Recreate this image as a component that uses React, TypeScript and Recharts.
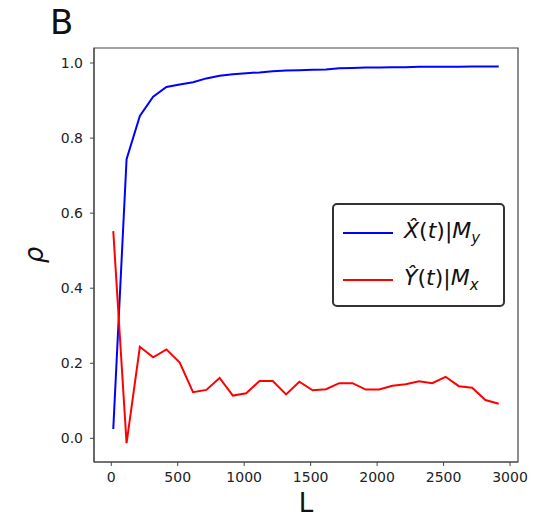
import { LineChart, Line, XAxis, YAxis, ReferenceArea } from "recharts";

const lengths = [15, 115, 215, 315, 415, 515, 615, 715, 815, 915, 1015, 1115, 1215, 1315, 1415, 1515, 1615, 1715, 1815, 1915, 2015, 2115, 2215, 2315, 2415, 2515, 2615, 2715, 2815, 2915];
const xGivenMy = [0.025, 0.744, 0.859, 0.91, 0.936, 0.943, 0.949, 0.959, 0.966, 0.97, 0.973, 0.975, 0.978, 0.98, 0.981, 0.982, 0.983, 0.986, 0.987, 0.988, 0.988, 0.989, 0.989, 0.99, 0.99, 0.99, 0.99, 0.991, 0.991, 0.991];
const yGivenMx = [0.552, -0.013, 0.244, 0.216, 0.237, 0.202, 0.123, 0.129, 0.161, 0.114, 0.12, 0.153, 0.153, 0.117, 0.151, 0.128, 0.131, 0.147, 0.147, 0.13, 0.13, 0.14, 0.144, 0.152, 0.147, 0.164, 0.139, 0.135, 0.102, 0.092];
const xTicks = [0, 500, 1000, 1500, 2000, 2500, 3000];
const yTicks = [0, 0.2, 0.4, 0.6, 0.8, 1.0];

const rows = lengths.map((L, i) => ({ L, x: xGivenMy[i], y: yGivenMx[i] }));

const X_DOMAIN: [number, number] = [-130, 3060];
const Y_DOMAIN: [number, number] = [-0.063, 1.04];
const font = "'DejaVu Sans', sans-serif";
const tickStyle = { fontSize: 14, fill: "#222", fontFamily: font };

function LegendBox() {
  const row = (color: string, letter: string, sub: string) => (
    <div style={{ display: "flex", alignItems: "center", height: 47 }}>
      <div style={{ width: 50, height: 2, background: color, marginLeft: 9, marginRight: 11 }} />
      <span style={{ fontFamily: font, fontSize: 22, color: "#111", whiteSpace: "nowrap" }}>
        <i>{letter}&#770;</i>(<i>t</i>)|<i>M</i>
        <sub style={{ fontSize: 15 }}>
          <i>{sub}</i>
        </sub>
      </span>
    </div>
  );
  return (
    <div
      style={{
        position: "absolute",
        left: 332,
        top: 203,
        width: 169,
        height: 96,
        border: "2.5px solid #333",
        borderRadius: 5,
        background: "#fff",
        boxSizing: "content-box",
        paddingTop: 4,
      }}
    >
      {row("#0000ff", "X", "y")}
      {row("#ff0000", "Y", "x")}
    </div>
  );
}

export default function App() {
  return (
    <div style={{ position: "absolute", left: 0, top: 0, width: 547, height: 520, background: "#fff" }}>
      <LineChart width={547} height={520} data={rows} margin={{ top: 48, right: 29, left: 0, bottom: 0 }}>
        <XAxis
          dataKey="L"
          type="number"
          domain={X_DOMAIN}
          ticks={xTicks}
          allowDataOverflow
          height={58}
          tick={tickStyle}
          tickSize={4}
          tickMargin={6}
          stroke="#444"
          label={{ value: "L", position: "insideBottom", offset: 8, style: { fontSize: 26, fill: "#111", fontFamily: font } }}
        />
        <YAxis
          type="number"
          domain={Y_DOMAIN}
          ticks={yTicks}
          allowDataOverflow
          width={94}
          tick={tickStyle}
          tickSize={4}
          tickMargin={7}
          tickFormatter={(v: number) => v.toFixed(1)}
          stroke="#444"
          label={{
            value: "ρ",
            angle: -90,
            position: "insideLeft",
            offset: 34,
            style: { fontSize: 26, fill: "#111", fontFamily: font, fontStyle: "italic", textAnchor: "middle" },
          }}
        />
        <ReferenceArea x1={X_DOMAIN[0]} x2={X_DOMAIN[1]} y1={Y_DOMAIN[0]} y2={Y_DOMAIN[1]} fill="none" stroke="#444" strokeWidth={1.2} ifOverflow="visible" />
        <Line dataKey="x" stroke="#0000ff" strokeWidth={2} dot={false} isAnimationActive={false} />
        <Line dataKey="y" stroke="#ff0000" strokeWidth={2} dot={false} isAnimationActive={false} />
      </LineChart>
      <div style={{ position: "absolute", left: 50, top: 5, fontFamily: font, fontSize: 34, lineHeight: "34px", color: "#111" }}>B</div>
      <LegendBox />
    </div>
  );
}
